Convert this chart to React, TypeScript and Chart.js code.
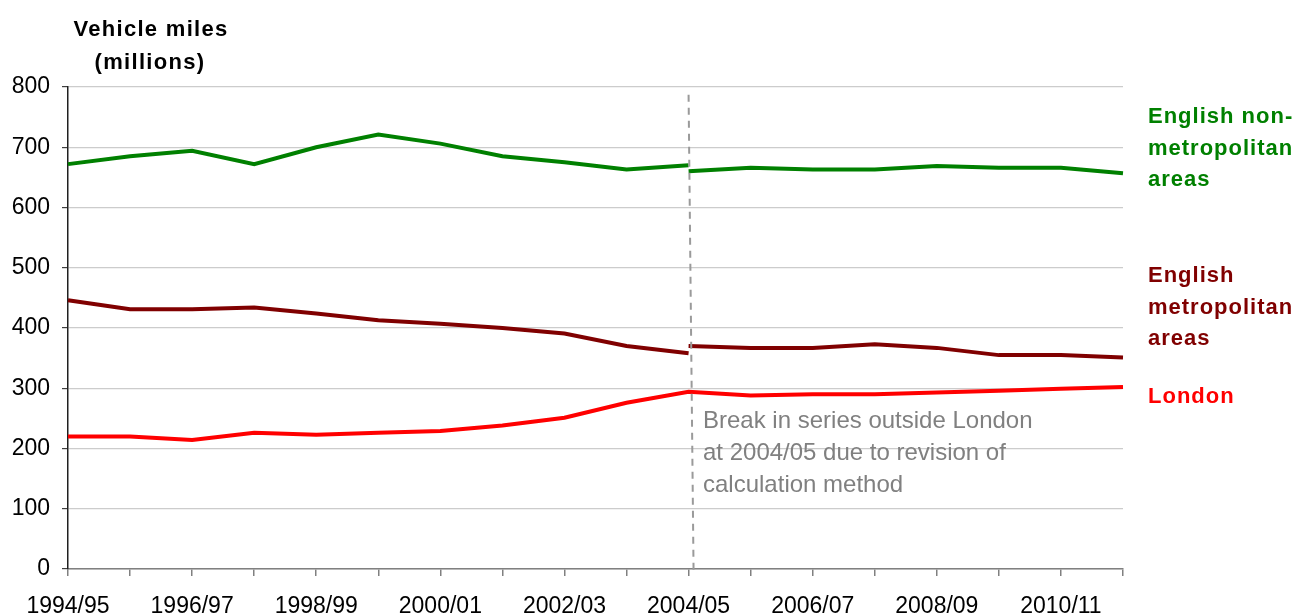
import React, { useEffect, useRef } from "react";
import { Chart, registerables } from "chart.js";

Chart.register(...registerables);

const categories = [
  "1994/95", "1995/96", "1996/97", "1997/98", "1998/99", "1999/00",
  "2000/01", "2001/02", "2002/03", "2003/04", "2004/05", "2005/06",
  "2006/07", "2007/08", "2008/09", "2009/10", "2010/11", "2011/12",
];

// English non-metropolitan areas: old method up to 2004/05, new method from 2004/05
const nonMetroOld = [672, 685, 694, 672, 700, 721, 706, 685, 675, 663, 670, null, null, null, null, null, null, null];
const nonMetroNew = [null, null, null, null, null, null, null, null, null, null, 660, 666, 663, 663, 669, 666, 666, 657];
// English metropolitan areas
const metroOld = [446, 431, 431, 434, 424, 413, 407, 400, 391, 370, 358, null, null, null, null, null, null, null];
const metroNew = [null, null, null, null, null, null, null, null, null, null, 370, 367, 367, 373, 367, 355, 355, 351];
// London
const london = [220, 220, 214, 226, 223, 226, 229, 238, 251, 276, 294, 288, 290, 290, 293, 296, 299, 302];

const yTicks = [0, 100, 200, 300, 400, 500, 600, 700, 800];
const breakIndex = 10;

const FONT = "'Liberation Sans', Arial, Helvetica, sans-serif";

const labelsPlugin = {
  id: "customLabels",
  afterDraw(chart: any) {
    const ctx = chart.ctx;
    const xs = chart.scales.x;
    const ys = chart.scales.y;
    ctx.save();

    // dashed break line
    const xPix = xs.getPixelForValue(breakIndex);
    ctx.strokeStyle = "#9a9a9a";
    ctx.lineWidth = 2;
    ctx.setLineDash([7, 6]);
    ctx.beginPath();
    ctx.moveTo(xPix, ys.getPixelForValue(787));
    ctx.lineTo(xPix + 5, ys.bottom + 4);
    ctx.stroke();
    ctx.setLineDash([]);

    // annotation
    ctx.fillStyle = "#808080";
    ctx.font = `24px ${FONT}`;
    ctx.textAlign = "left";
    ctx.textBaseline = "middle";
    const ann = ["Break in series outside London", "at 2004/05 due to revision of", "calculation method"];
    ann.forEach((t, i) => ctx.fillText(t, 703, 421 + i * 32));

    // y-axis title
    ctx.fillStyle = "#000000";
    ctx.font = `bold 22px ${FONT}`;
    ctx.textAlign = "center";
    try { (ctx as any).letterSpacing = "1.3px"; } catch (e) {}
    ctx.fillText("Vehicle miles", 151, 30);
    ctx.fillText("(millions)", 150, 63);
    try { (ctx as any).letterSpacing = "1px"; } catch (e) {}

    // series labels
    ctx.textAlign = "left";
    const groups: [string, string[], number][] = [
      ["#008000", ["English non-", "metropolitan", "areas"], 117],
      ["#800000", ["English", "metropolitan", "areas"], 276],
      ["#ff0000", ["London"], 397],
    ];
    groups.forEach(([color, lines, y0]) => {
      ctx.fillStyle = color;
      lines.forEach((t, i) => ctx.fillText(t, 1148, y0 + i * 31.5));
    });
    try { (ctx as any).letterSpacing = "0px"; } catch (e) {}
    ctx.restore();
  },
};

export default function App() {
  const ref = useRef<HTMLCanvasElement | null>(null);

  useEffect(() => {
    if (!ref.current) return;
    const mk = (data: (number | null)[], color: string) => ({
      data,
      borderColor: color,
      backgroundColor: color,
      borderWidth: 4,
      pointRadius: 0,
      pointHoverRadius: 0,
      tension: 0,
      spanGaps: false,
      fill: false,
    });
    const chart = new Chart(ref.current, {
      type: "line",
      data: {
        labels: categories,
        datasets: [
          mk(nonMetroOld, "#008000"),
          mk(nonMetroNew, "#008000"),
          mk(metroOld, "#800000"),
          mk(metroNew, "#800000"),
          mk(london, "#ff0000"),
        ],
      },
      options: {
        responsive: false,
        animation: false,
        events: [],
        layout: { padding: { left: 0, top: 87, right: 175, bottom: 0 } },
        plugins: {
          legend: { display: false },
          tooltip: { enabled: false },
          title: { display: false },
        },
        scales: {
          x: {
            type: "category",
            offset: false,
            grid: { drawOnChartArea: false, tickLength: 7, color: "#808080", lineWidth: 1.5 },
            border: { color: "#808080", width: 1.5 },
            ticks: {
              autoSkip: false,
              maxRotation: 0,
              minRotation: 0,
              padding: 17,
              color: "#000000",
              font: { family: FONT, size: 23 },
              callback: (_v: any, i: number) => (i % 2 === 0 ? categories[i] : ""),
            },
            afterFit: (s: any) => { s.height = 44; },
          },
          y: {
            min: 0,
            max: 800,
            afterBuildTicks: (s: any) => { s.ticks = yTicks.map((v) => ({ value: v })); },
            grid: { color: "#cccccc", lineWidth: 1.2, tickLength: 6, tickColor: "#404040" },
            border: { color: "#202020", width: 1.5 },
            ticks: {
              padding: 12,
              color: "#000000",
              font: { family: FONT, size: 23 },
            },
            afterFit: (s: any) => { s.width = 68; },
          },
        },
      },
      plugins: [labelsPlugin],
    });
    return () => chart.destroy();
  }, []);

  return (
    <div style={{ position: "absolute", left: 0, top: 0, width: 1298, height: 613, background: "#fff" }}>
      <canvas ref={ref} width={1298} height={613} style={{ display: "block" }} />
    </div>
  );
}
